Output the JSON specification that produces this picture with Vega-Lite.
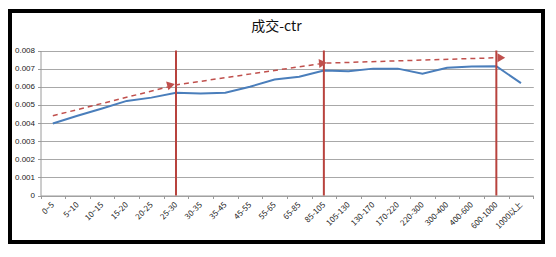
{
  "$schema": "https://vega.github.io/schema/vega-lite/v6.json",
  "autosize": "none",
  "width": 533,
  "height": 231,
  "padding": {"left": 10, "top": 11, "right": 13, "bottom": 15},
  "background": "white",
  "config": {
    "view": {"stroke": "black", "strokeWidth": 4},
    "font": "Liberation Sans",
    "axis": {
      "labelFont": "Liberation Sans",
      "labelFontSize": 8,
      "labelColor": "#222222",
      "domainColor": "#9a9a9a",
      "tickColor": "#9a9a9a",
      "gridColor": "#a8a8a8",
      "title": null
    }
  },
  "title": {
    "text": "成交-ctr",
    "font": "Noto Sans CJK SC",
    "fontSize": 14,
    "fontWeight": "normal",
    "color": "#111111",
    "anchor": "middle",
    "baseline": "middle",
    "offset": -14.7,
    "dy": 15
  },
  "datasets": {
    "ctr": [
      {"bucket": "0~5", "ctr": 0.00397},
      {"bucket": "5~10", "ctr": 0.0044},
      {"bucket": "10~15", "ctr": 0.0048},
      {"bucket": "15-20", "ctr": 0.00522},
      {"bucket": "20-25", "ctr": 0.0054},
      {"bucket": "25-30", "ctr": 0.00567},
      {"bucket": "30-35", "ctr": 0.00563},
      {"bucket": "35-45", "ctr": 0.00567},
      {"bucket": "45-55", "ctr": 0.006},
      {"bucket": "55-65", "ctr": 0.0064},
      {"bucket": "65-85", "ctr": 0.00655},
      {"bucket": "85-105", "ctr": 0.0069},
      {"bucket": "105-130", "ctr": 0.00685},
      {"bucket": "130-170", "ctr": 0.007},
      {"bucket": "170-220", "ctr": 0.007},
      {"bucket": "220-300", "ctr": 0.00672},
      {"bucket": "300-400", "ctr": 0.00705},
      {"bucket": "400-600", "ctr": 0.00712},
      {"bucket": "600-1000", "ctr": 0.00713},
      {"bucket": "1000以上", "ctr": 0.0062}
    ],
    "trend": [
      {"bucket": "0~5", "ctr": 0.0044},
      {"bucket": "25-30", "ctr": 0.0061},
      {"bucket": "85-105", "ctr": 0.0073},
      {"bucket": "600-1000", "ctr": 0.0076}
    ],
    "marks": [
      {"bucket": "25-30", "lo": 0, "hi": 0.008},
      {"bucket": "85-105", "lo": 0, "hi": 0.008},
      {"bucket": "600-1000", "lo": 0, "hi": 0.008}
    ]
  },
  "encoding": {
    "x": {
      "field": "bucket",
      "type": "ordinal",
      "sort": null,
      "bandPosition": 0.5,
      "scale": {
        "type": "band",
        "domain": ["0~5", "5~10", "10~15", "15-20", "20-25", "25-30", "30-35", "35-45", "45-55", "55-65", "65-85", "85-105", "105-130", "130-170", "170-220", "220-300", "300-400", "400-600", "600-1000", "1000以上"],
        "range": [30.5, 523.3],
        "paddingInner": 0,
        "paddingOuter": 0
      },
      "axis": {
        "offset": -46.5,
        "tickBand": "extent",
        "tickSize": 3,
        "labelAngle": -45,
        "labelAlign": "right",
        "labelBaseline": "middle",
        "labelPadding": 5,
        "labelFont": "Noto Sans CJK SC",
        "grid": false
      }
    }
  },
  "layer": [
    {
      "data": {"name": "ctr"},
      "mark": {"type": "line", "color": "#4a7ebb", "strokeWidth": 2},
      "encoding": {
        "y": {
          "field": "ctr",
          "type": "quantitative",
          "scale": {"domain": [0, 0.008], "range": [184.5, 39.5], "nice": false, "zero": true},
          "axis": {
            "offset": -30.5,
            "values": [0, 0.001, 0.002, 0.003, 0.004, 0.005, 0.006, 0.007, 0.008],
            "tickCount": 12,
            "format": "~g",
            "tickSize": 3,
            "labelPadding": 3,
            "labelOverlap": false,
            "grid": true
          }
        }
      }
    },
    {
      "data": {"name": "marks"},
      "mark": {"type": "rule", "color": "#b8433e", "strokeWidth": 2},
      "encoding": {
        "y": {"field": "lo", "type": "quantitative"},
        "y2": {"field": "hi"}
      }
    },
    {
      "data": {"name": "trend"},
      "mark": {"type": "line", "color": "#c0504d", "strokeWidth": 1.5, "strokeDash": [5, 4]},
      "encoding": {
        "y": {"field": "ctr", "type": "quantitative"}
      }
    },
    {
      "data": {"name": "trend"},
      "transform": [{"filter": "datum.bucket == '25-30'"}],
      "mark": {"type": "point", "shape": "triangle-right", "filled": true, "color": "#c0504d", "opacity": 1, "size": 80, "angle": -15, "xOffset": -5},
      "encoding": {
        "y": {"field": "ctr", "type": "quantitative"}
      }
    },
    {
      "data": {"name": "trend"},
      "transform": [{"filter": "datum.bucket == '85-105'"}],
      "mark": {"type": "point", "shape": "triangle-right", "filled": true, "color": "#c0504d", "opacity": 1, "size": 80, "angle": -5, "xOffset": -1},
      "encoding": {
        "y": {"field": "ctr", "type": "quantitative"}
      }
    },
    {
      "data": {"name": "trend"},
      "transform": [{"filter": "datum.bucket == '600-1000'"}],
      "mark": {"type": "point", "shape": "triangle-right", "filled": true, "color": "#c0504d", "opacity": 1, "size": 80, "xOffset": 5},
      "encoding": {
        "y": {"field": "ctr", "type": "quantitative"}
      }
    }
  ]
}
